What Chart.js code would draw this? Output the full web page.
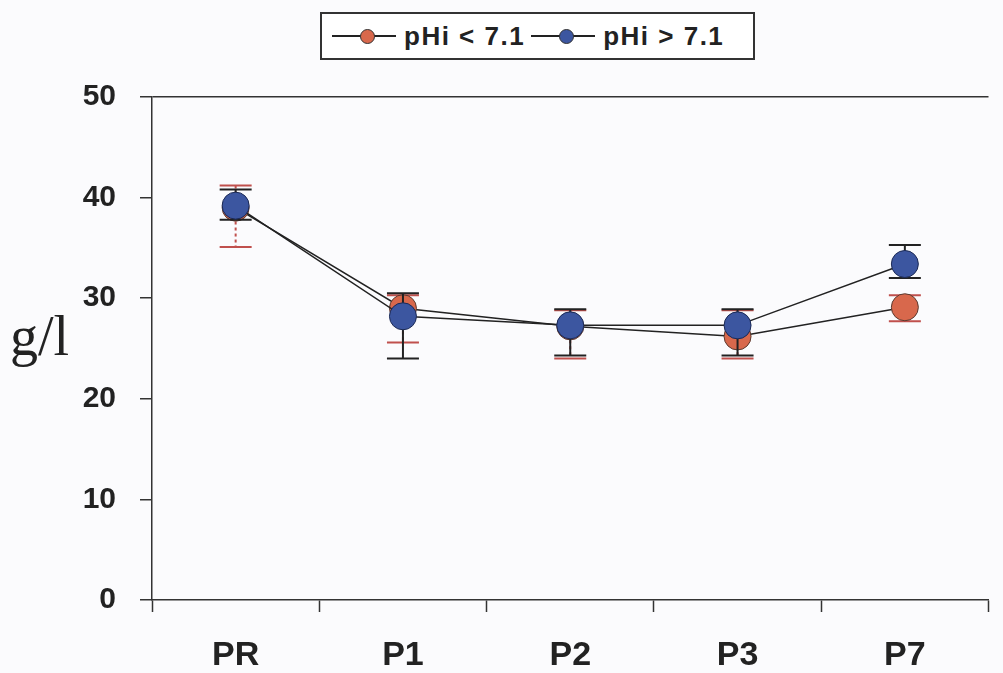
<!DOCTYPE html>
<html>
<head>
<meta charset="utf-8">
<script src="https://cdn.jsdelivr.net/npm/chart.js@4/dist/chart.umd.min.js"></script>
<style>
    html, body { margin: 0; padding: 0; background: #fbfbfd; overflow: hidden; }
    #wrap { position: relative; width: 1003px; height: 673px; }
    #unit {
        position: absolute; left: 10px; top: 308px;
        font-family: "Liberation Serif", "Times New Roman", serif;
        font-size: 56px; color: #222; line-height: 1;
    }
    #legend {
        position: absolute; left: 320px; top: 12px; width: 435px; height: 48px;
        border: 2px solid #333; background: #fff; box-sizing: border-box;
        display: flex; align-items: center; padding-left: 10px;
        font-family: "Liberation Sans", Arial, sans-serif; font-weight: bold;
        font-size: 26px; letter-spacing: 1.5px; color: #222;
    }
    .sym { position: relative; width: 64px; height: 20px; margin-right: 8px; }
    .sym .ln { position: absolute; left: 0; right: 0; top: 9px; border-top: 2px solid #222; }
    .sym .dt { position: absolute; left: 28px; top: 3px; width: 13px; height: 13px; border-radius: 50%; border: 1px solid #333; }
    .item { display: flex; align-items: center; margin-right: 6px; }
</style>
</head>
<body>
<div id="wrap">
    <canvas id="chart" width="1003" height="673"></canvas>
    <div id="unit">g/l</div>
    <div id="legend"></div>
</div>
<script>
// data
const categories = ["PR", "P1", "P2", "P3", "P7"];
const lowMean  = [39.0, 29.0, 27.2, 26.2, 29.1];
const lowUpper = [41.2, 30.3, 28.8, 28.8, 30.3];
const lowLower = [35.1, 25.6, 24.0, 24.0, 27.7];
const highMean  = [39.2, 28.2, 27.3, 27.3, 33.4];
const highUpper = [40.8, 30.5, 28.9, 28.9, 35.3];
const highLower = [37.8, 24.0, 24.3, 24.3, 32.0];
const yTicks = [0, 10, 20, 30, 40, 50];
const seriesNames = ["pHi < 7.1", "pHi > 7.1"];

const redFill  = "#d8684c";
const blueFill = "#3c56a0";

// html legend
const legend = document.getElementById("legend");
[[seriesNames[0], redFill], [seriesNames[1], blueFill]].forEach(([name, col]) => {
    const it = document.createElement("div");
    it.className = "item";
    it.innerHTML = '<div class="sym"><div class="ln"></div><div class="dt" style="background:' + col + '"></div></div><span>' + name + '</span>';
    legend.appendChild(it);
});

// error bars drawn under each dataset's line/markers
const errorBars = {
    id: "errorBars",
    beforeDatasetDraw(chart, args) {
        const ds = chart.data.datasets[args.index];
        if (!ds.err) return;
        const x = chart.scales.x, y = chart.scales.y;
        const c = chart.ctx;
        c.save();
        ds.err.upper.forEach((u, i) => {
            const px = x.getPixelForValue(i);
            const pu = y.getPixelForValue(u);
            const pl = y.getPixelForValue(ds.err.lower[i]);
            c.strokeStyle = ds.err.stem;
            c.lineWidth = 2;
            c.setLineDash(ds.err.dash);
            c.beginPath();
            c.moveTo(px, pu); c.lineTo(px, pl);
            c.stroke();
            c.setLineDash([]);
            c.strokeStyle = ds.err.cap;
            c.beginPath();
            c.moveTo(px - 16, pu); c.lineTo(px + 16, pu);
            c.moveTo(px - 16, pl); c.lineTo(px + 16, pl);
            c.stroke();
        });
        c.restore();
    }
};

new Chart(document.getElementById("chart"), {
    type: "line",
    data: {
        labels: categories,
        datasets: [
            {
                label: seriesNames[0],
                data: lowMean,
                order: 2,
                borderColor: "#222",
                borderWidth: 1.5,
                pointRadius: 13.5,
                pointBackgroundColor: redFill,
                pointBorderColor: "#5a3a30",
                pointBorderWidth: 1,
                err: { upper: lowUpper, lower: lowLower, stem: "#c0504d", cap: "#c0504d", dash: [3, 3] }
            },
            {
                label: seriesNames[1],
                data: highMean,
                order: 1,
                borderColor: "#222",
                borderWidth: 1.5,
                pointRadius: 13.5,
                pointBackgroundColor: blueFill,
                pointBorderColor: "#1c2a55",
                pointBorderWidth: 1,
                err: { upper: highUpper, lower: highLower, stem: "#222", cap: "#222", dash: [] }
            }
        ]
    },
    options: {
        responsive: false,
        animation: false,
        layout: { padding: { top: 97, right: 0, left: 0, bottom: 0 } },
        plugins: { legend: { display: false }, tooltip: { enabled: false } },
        scales: {
            x: {
                offset: true,
                grid: { offset: true, drawOnChartArea: false, tickLength: 12, tickColor: "#333", tickWidth: 1.5 },
                border: { display: true, color: "#333", width: 1.5 },
                ticks: {
                    padding: 23,
                    color: "#222",
                    font: { family: "'Liberation Sans', Arial, sans-serif", weight: "bold", size: 34 }
                },
                afterFit(scale) { scale.height = 73; }
            },
            y: {
                min: 0,
                max: 50,
                afterBuildTicks(scale) { scale.ticks = yTicks.map(v => ({ value: v })); },
                grid: {
                    drawOnChartArea: true,
                    color: ctx => ctx.tick && ctx.tick.value === 50 ? "#333" : "rgba(0,0,0,0)",
                    lineWidth: 1.5,
                    tickLength: 12,
                    tickColor: "#333",
                    tickWidth: 1.5
                },
                border: { display: true, color: "#333", width: 1.5 },
                ticks: {
                    padding: 24,
                    color: "#222",
                    font: { family: "'Liberation Sans', Arial, sans-serif", weight: "bold", size: 30 }
                },
                afterFit(scale) { scale.width = 152; }
            }
        }
    },
    plugins: [errorBars]
});
</script>
</body>
</html>
